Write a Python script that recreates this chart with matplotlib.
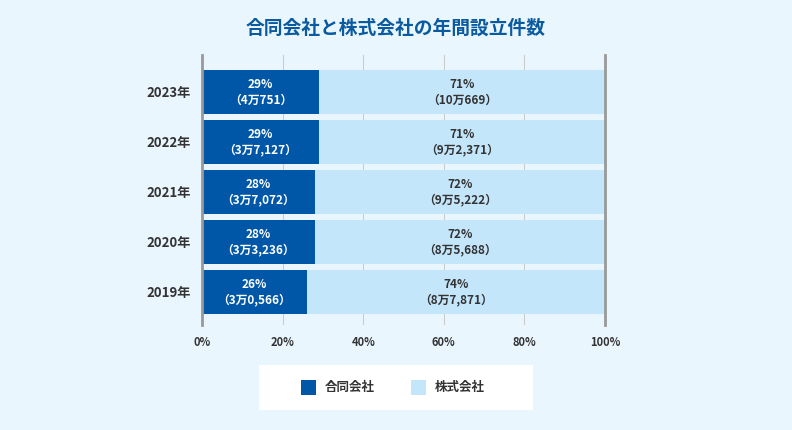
import matplotlib.pyplot as plt
from matplotlib.patches import Rectangle

plt.rcParams["font.family"] = "Noto Sans CJK JP"

years = ["2019年", "2020年", "2021年", "2022年", "2023年"]
godo_pct = [26, 28, 28, 29, 29]
kabu_pct = [74, 72, 72, 71, 71]
godo_cnt = ["3万0,566", "3万3,236", "3万7,072", "3万7,127", "4万751"]
kabu_cnt = ["8万7,871", "8万5,688", "9万5,222", "9万2,371", "10万669"]
xticks = [0, 20, 40, 60, 80, 100]

DARK = "#0057a8"
LIGHT = "#c4e6fb"
BG = "#eaf6fd"

fig = plt.figure(figsize=(7.92, 4.3), dpi=100, facecolor=BG)
ax = fig.add_axes([202 / 792, 105 / 430, 403 / 792, 270 / 430])
ax.set_facecolor(BG)

ys = range(len(years))
ax.barh(ys, godo_pct, height=0.88, color=DARK, zorder=2)
ax.barh(ys, kabu_pct, left=godo_pct, height=0.88, color=LIGHT, zorder=2)

for y, gp, kp, gc, kc in zip(ys, godo_pct, kabu_pct, godo_cnt, kabu_cnt):
    ax.text(gp / 2, y, f"{gp}%\n（{gc}）", ha="center", va="center",
            color="white", fontsize=8.5, fontweight="bold", linespacing=1.3, zorder=3)
    ax.text(gp + kp / 2, y, f"{kp}%\n（{kc}）", ha="center", va="center",
            color="#333333", fontsize=8.5, fontweight="bold", linespacing=1.3, zorder=3)

ax.set_xlim(0, 100)
ax.set_ylim(-0.66, 4.74)
ax.set_xticks(xticks)
ax.set_xticklabels([f"{t}%" for t in xticks], fontsize=8, fontweight="bold", color="#333333")
ax.set_yticks(list(ys))
ax.set_yticklabels(years, fontsize=9.5, fontweight="bold", color="#333333")
ax.tick_params(length=0, pad=8)
for t in xticks[1:-1]:
    ax.axvline(t, color="#cccccc", lw=0.8, zorder=1)
for s in ["top", "bottom"]:
    ax.spines[s].set_visible(False)
for s in ["left", "right"]:
    ax.spines[s].set_color("#999999")
    ax.spines[s].set_linewidth(2)
    ax.spines[s].set_zorder(4)

fig.text(396 / 792, 1 - 28 / 430, "合同会社と株式会社の年間設立件数", ha="center", va="center",
         fontsize=13.5, fontweight="bold", color="#0a5aa0")

# legend box
fig.patches.append(Rectangle((259 / 792, 1 - 410 / 430), 274 / 792, 45 / 430,
                             transform=fig.transFigure, facecolor="white", edgecolor="none"))
for x0, col, lab in [(301, DARK, "合同会社"), (411, LIGHT, "株式会社")]:
    fig.patches.append(Rectangle((x0 / 792, 1 - 395 / 430), 15 / 792, 15 / 430,
                                 transform=fig.transFigure, facecolor=col, edgecolor="none"))
    fig.text((x0 + 24) / 792, 1 - 387.5 / 430, lab, ha="left", va="center",
             fontsize=9, fontweight="bold", color="#333333")

fig.savefig("out.png", dpi=100, facecolor=BG)
